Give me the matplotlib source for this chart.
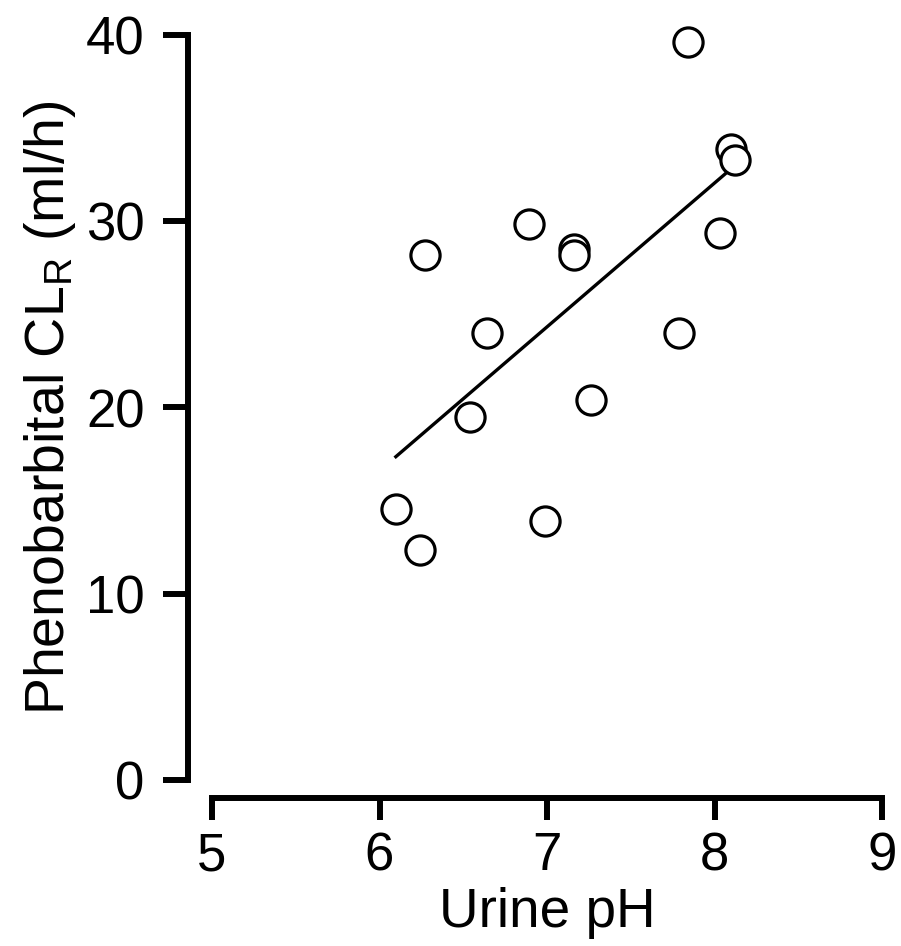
import matplotlib
matplotlib.use("Agg")
import matplotlib.pyplot as plt

plt.rcParams['font.family'] = ['Liberation Sans', 'DejaVu Sans']
plt.rcParams['mathtext.fontset'] = 'custom'
plt.rcParams['mathtext.rm'] = 'Liberation Sans'
plt.rcParams['mathtext.it'] = 'Liberation Sans'

# data
urine_ph = [6.10, 6.24, 6.27, 6.54, 6.64, 6.89, 6.99, 7.16, 7.16, 7.26, 7.79, 7.84, 8.03, 8.10, 8.12]
clr = [14.55, 12.35, 28.2, 19.5, 24.0, 29.85, 13.9, 28.5, 28.2, 20.4, 24.0, 39.65, 29.35, 33.9, 33.3]
fit_x = [6.09, 8.11]
fit_y = [17.3, 32.9]
xticks = [5, 6, 7, 8, 9]
yticks = [0, 10, 20, 30, 40]

fig = plt.figure(figsize=(9.01, 9.46), dpi=100)
ax = fig.add_axes([212/901, 166/946, 670/901, 745/946])

ax.plot(fit_x, fit_y, color='black', lw=2.4, solid_capstyle='butt', zorder=2)
ax.plot(urine_ph, clr, linestyle='none', marker='o', markersize=21,
        markerfacecolor='white', markeredgecolor='black', markeredgewidth=2.3,
        zorder=3, clip_on=False)

ax.set_xlim(5, 9)
ax.set_ylim(0, 40)
ax.set_xticks(xticks)
ax.set_yticks(yticks)
ax.set_xticklabels([str(v) for v in xticks])
ax.set_yticklabels([str(v) for v in yticks])

for s in ['top', 'right']:
    ax.spines[s].set_visible(False)
ax.spines['left'].set_position(('outward', 17.5))
ax.spines['bottom'].set_position(('outward', 13))
ax.spines['left'].set_bounds(0, 40)
ax.spines['bottom'].set_bounds(5, 9)
for s in ['left', 'bottom']:
    ax.spines[s].set_linewidth(4.3)
    ax.spines[s].set_capstyle('projecting')

ax.tick_params(axis='both', direction='out', width=4.3, labelsize=38, colors='black')
ax.tick_params(axis='y', length=18, pad=13)
ax.tick_params(axis='x', length=16, pad=8)

ax.set_xlabel('Urine pH', fontsize=39.5, labelpad=4)
ax.set_ylabel(r'Phenobarbital CL$_{\mathrm{R}}$ (ml/h)', fontsize=40, labelpad=6)

fig.savefig('out.png', dpi=100)
